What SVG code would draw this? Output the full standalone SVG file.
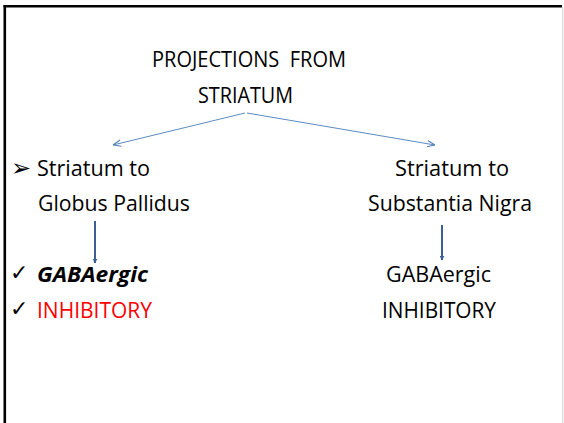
<svg xmlns="http://www.w3.org/2000/svg" width="564" height="423" viewBox="0 0 564 423">
<defs>
<style>
.t{font-family:"Open Sans","Liberation Sans",sans-serif;font-size:21px;fill:#000;white-space:pre}
.sym{font-family:"DejaVu Sans",sans-serif;fill:#000}
.thin{stroke:#4A7EBB;stroke-width:0.9;fill:none}
.down{stroke:#3B5F95;stroke-width:2;fill:none}
</style>
<marker id="open" viewBox="0 0 10 10" refX="10" refY="5" markerWidth="8" markerHeight="8" markerUnits="userSpaceOnUse" orient="auto">
<path d="M0,1 L10,5 L0,9" fill="none" stroke="#4A7EBB" stroke-width="1.2"/>
</marker>
<marker id="solid" viewBox="0 0 10 10" refX="9" refY="5" markerWidth="5" markerHeight="5" markerUnits="userSpaceOnUse" orient="auto">
<path d="M0,0 L10,5 L0,10 z" fill="#3B5F95"/>
</marker>
</defs>
<rect x="0" y="0" width="564" height="423" fill="#fff"/>
<g id="frame">
<line x1="4.8" y1="5" x2="4.8" y2="423" stroke="#000" stroke-width="2.6"/>
<line x1="3.5" y1="6.2" x2="562" y2="6.2" stroke="#000" stroke-width="2.4"/>
<line x1="562.8" y1="7" x2="562.8" y2="423" stroke="#d0d0d0" stroke-width="1"/>
</g>
<g id="title">
<text class="t" x="152" y="67" textLength="194" lengthAdjust="spacingAndGlyphs">PROJECTIONS  FROM</text>
<text class="t" x="198" y="103" textLength="95" lengthAdjust="spacingAndGlyphs">STRIATUM</text>
</g>
<g id="left">
<text class="sym" x="11" y="176" font-size="24">➢</text>
<text class="t" x="37" y="176" textLength="113" lengthAdjust="spacingAndGlyphs">Striatum to</text>
<text class="t" x="38" y="211" textLength="152" lengthAdjust="spacingAndGlyphs">Globus Pallidus</text>
</g>
<g id="left-effects">
<text class="sym" x="10" y="280" font-size="22">✓</text>
<text class="t" x="37" y="282" font-weight="bold" font-style="italic" textLength="111" lengthAdjust="spacingAndGlyphs">GABAergic</text>
<text class="sym" x="10" y="316" font-size="22">✓</text>
<text class="t" x="37" y="318" style="fill:#ff0000" textLength="115" lengthAdjust="spacingAndGlyphs">INHIBITORY</text>
</g>
<g id="right">
<text class="t" x="395" y="176" textLength="114" lengthAdjust="spacingAndGlyphs">Striatum to</text>
<text class="t" x="368" y="211" textLength="164" lengthAdjust="spacingAndGlyphs">Substantia Nigra</text>
</g>
<g id="right-effects">
<text class="t" x="386" y="282" textLength="105" lengthAdjust="spacingAndGlyphs">GABAergic</text>
<text class="t" x="382" y="318" textLength="114" lengthAdjust="spacingAndGlyphs">INHIBITORY</text>
</g>
<g id="connectors">
<line class="thin" x1="245" y1="113" x2="113" y2="145" marker-end="url(#open)"/>
<line class="thin" x1="247" y1="113" x2="435" y2="145" marker-end="url(#open)"/>
<line class="down" x1="95" y1="221" x2="95" y2="263" marker-end="url(#solid)"/>
<line class="down" x1="442" y1="225" x2="442" y2="260" marker-end="url(#solid)"/>
</g>
</svg>
